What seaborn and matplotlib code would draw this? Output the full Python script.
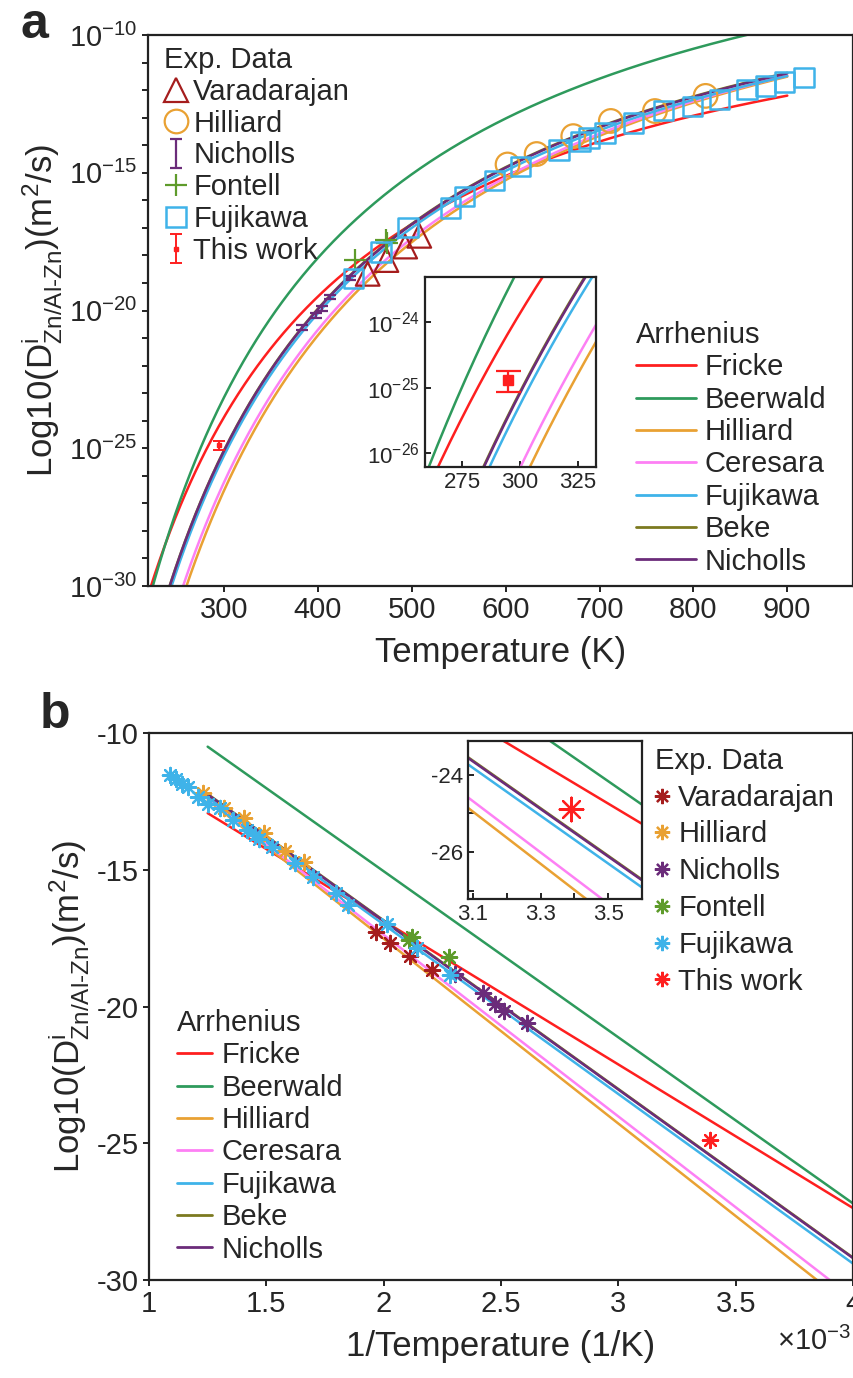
import numpy as np
import pandas as pd
import matplotlib
matplotlib.use("Agg")
import matplotlib.pyplot as plt
from matplotlib.lines import Line2D
from matplotlib.ticker import FixedLocator, FuncFormatter, NullFormatter
import seaborn as sns

# Arrhenius fits, log10 D at 1/T = 1.25e-3 and 4.0e-3 1/K
arrh_names = ["Fricke", "Beerwald", "Hilliard", "Ceresara", "Fujikawa", "Beke", "Nicholls"]
arrh_colors = ["#fe1f1f", "#2e9a5c", "#e9a133", "#fd80f4", "#3fb3e9", "#7c7a20", "#6b2c7a"]
arrh_invT = [1.25e-3, 4.0e-3]
arrh_logD_start = [-12.93, -10.50, -12.45, -12.40, -12.35, -12.23, -12.25]
arrh_logD_end = [-27.37, -27.20, -31.04, -30.66, -29.40, -29.18, -29.20]

# experimental data: T in K, log10 D in m^2/s
vara_T = [453, 473, 493, 508]
vara_logD = [-18.67, -18.17, -17.68, -17.29]
hill_T = [602, 633, 672, 712, 759, 813]
hill_logD = [-14.70, -14.32, -13.67, -13.12, -12.76, -12.21]
nich_T = [383, 398, 404, 413, 434]
nich_logD = [-20.62, -20.18, -19.92, -19.52, -18.82]
nich_err = [0.08, 0.08, 0.08, 0.08, 0.08]
font_T = [439, 472, 474]
font_logD = [-18.18, -17.45, -17.56]
fuji_T = [918, 897, 877, 857, 828, 799, 768, 736, 706, 689, 680, 657, 616,
          588, 556, 541, 496, 467, 438]
fuji_logD = [-11.54, -11.70, -11.85, -11.98, -12.35, -12.60, -12.74, -13.19,
             -13.56, -13.74, -13.86, -14.17, -14.77, -15.28, -15.86, -16.28,
             -16.99, -17.87, -18.84]
this_T = [295]
this_logD = [-24.88]
this_lo = [-25.07]
this_hi = [-24.75]

c_vara = "#a51d1d"
c_hill = "#e9a133"
c_nich = "#6b2c7a"
c_font = "#5e9b2b"
c_fuji = "#3fb3e9"
c_this = "#fe1f1f"

sns.set_style("ticks")
plt.rcParams["font.family"] = ["Liberation Sans", "DejaVu Sans"]
plt.rcParams["mathtext.fontset"] = "custom"
plt.rcParams["mathtext.rm"] = "Liberation Sans"
plt.rcParams["mathtext.it"] = "Liberation Sans:italic"
plt.rcParams["mathtext.bf"] = "Liberation Sans:bold"
plt.rcParams["axes.unicode_minus"] = False

W, H = 854, 1378
fs = 21      # ticks and legends
fl = 25      # axis labels


def box(l, t, r, b):
    return [l / W, 1 - b / H, (r - l) / W, (b - t) / H]


def style_axes(ax, direction="out", size=fs):
    for s in ax.spines.values():
        s.set_visible(True)
        s.set_linewidth(1.6)
        s.set_color("#222222")
    ax.tick_params(which="both", direction=direction, length=4, width=1.4,
                   labelsize=size, top=False, right=False, color="#222222")


# line tables
slopes = [(e - s) / (arrh_invT[1] - arrh_invT[0]) for s, e in zip(arrh_logD_start, arrh_logD_end)]
T_grid = np.linspace(215, 900, 500)
rows_T, rows_inv = [], []
for name, s0, k in zip(arrh_names, arrh_logD_start, slopes):
    logD = s0 + k * (1.0 / T_grid - arrh_invT[0])
    rows_T.append(pd.DataFrame({"T": T_grid, "D": 10.0 ** logD, "model": name}))
    rows_inv.append(pd.DataFrame({"invT": arrh_invT, "logD": [s0, s0 + k * (arrh_invT[1] - arrh_invT[0])],
                                  "model": name}))
lines_T = pd.concat(rows_T)
lines_inv = pd.concat(rows_inv)
pal = dict(zip(arrh_names, arrh_colors))

fig = plt.figure(figsize=(W / 100, H / 100), dpi=100)

# ---------------- panel a ----------------
ax1 = fig.add_axes(box(148, 35, 853, 586))
sns.lineplot(data=lines_T, x="T", y="D", hue="model", hue_order=arrh_names, palette=pal,
             estimator=None, sort=False, lw=1.8, legend=False, ax=ax1)
ax1.set_yscale("log")


def tD(T, logD):
    return np.array(T, float), 10.0 ** np.array(logD)


x, y = tD(vara_T, vara_logD)
sns.scatterplot(x=x, y=y, marker="^", s=17 ** 2, facecolor="none", edgecolor=c_vara, linewidth=1.6, ax=ax1, zorder=5)
x, y = tD(hill_T, hill_logD)
sns.scatterplot(x=x, y=y, marker="o", s=17 ** 2, facecolor="none", edgecolor=c_hill, linewidth=1.6, ax=ax1, zorder=5)
x, y = tD(nich_T, nich_logD)
ne = np.array(nich_err)
eb_nich = ax1.errorbar(x, y, yerr=[y - y * 10 ** -ne, y * 10 ** ne - y], fmt="none", ecolor=c_nich,
                       elinewidth=1.6, capsize=4, capthick=1.6, zorder=5)
x, y = tD(font_T, font_logD)
sns.scatterplot(x=x, y=y, marker="+", s=16 ** 2, color=c_font, linewidth=1.6, ax=ax1, zorder=5)
x, y = tD(fuji_T, fuji_logD)
sns.scatterplot(x=x, y=y, marker="s", s=14 ** 2, facecolor="none", edgecolor=c_fuji, linewidth=1.8, ax=ax1, zorder=5)
x, y = tD(this_T, this_logD)
lo = 10.0 ** np.array(this_lo)
hi = 10.0 ** np.array(this_hi)
eb_this = ax1.errorbar(x, y, yerr=[y - lo, hi - y], fmt="s", ms=3, color=c_this, elinewidth=1.4,
                       capsize=4, capthick=1.4, zorder=5)

ax1.set_xlim(219, 970)
ax1.set_ylim(1e-30, 1e-10)
ax1.set_xticks([300, 400, 500, 600, 700, 800, 900])
ax1.yaxis.set_major_locator(FixedLocator([1e-30, 1e-25, 1e-20, 1e-15, 1e-10]))
ax1.yaxis.set_minor_locator(FixedLocator([10.0 ** k for k in range(-30, -9)]))
ax1.yaxis.set_minor_formatter(NullFormatter())
style_axes(ax1)
ax1.set_xlabel("Temperature (K)", fontsize=fl, labelpad=8)
ylab = r"Log10($\mathregular{D^{i}_{Zn/Al\text{-}Zn}}$)(m$^{2}$/s)"
ax1.set_ylabel(ylab, fontsize=fl, labelpad=4)

h_exp_a = [
    Line2D([], [], ls="none", marker="^", ms=17, mfc="none", mec=c_vara, mew=1.6),
    Line2D([], [], ls="none", marker="o", ms=17, mfc="none", mec=c_hill, mew=1.6),
    eb_nich,
    Line2D([], [], ls="none", marker="+", ms=16, color=c_font, mew=1.6),
    Line2D([], [], ls="none", marker="s", ms=14, mfc="none", mec=c_fuji, mew=1.8),
    eb_this,
]
lab_exp = ["Varadarajan", "Hilliard", "Nicholls", "Fontell", "Fujikawa", "This work"]
leg = ax1.legend(h_exp_a, lab_exp, title="Exp. Data", loc="upper left",
                 bbox_to_anchor=(164 / W, 1 - 46 / H), bbox_transform=fig.transFigure,
                 frameon=False, fontsize=fs, title_fontsize=fs, alignment="left",
                 borderpad=0, handlelength=0.8, handletextpad=0.2, labelspacing=0.13,
                 borderaxespad=0)
ax1.add_artist(leg)
h_arr = [Line2D([], [], color=c, lw=2) for c in arrh_colors]
ax1.legend(h_arr, arrh_names, title="Arrhenius", loc="upper left",
           bbox_to_anchor=(636 / W, 1 - 321 / H), bbox_transform=fig.transFigure,
           frameon=False, fontsize=fs, title_fontsize=fs, alignment="left",
           borderpad=0, handlelength=2.05, handletextpad=0.3, labelspacing=0.15,
           borderaxespad=0)

# inset a
ax1i = fig.add_axes(box(425, 277, 596, 467))
sns.lineplot(data=lines_T, x="T", y="D", hue="model", hue_order=arrh_names, palette=pal,
             estimator=None, sort=False, lw=1.8, legend=False, ax=ax1i)
ax1i.set_yscale("log")
ax1i.errorbar(x, y, yerr=[y - lo, hi - y], fmt="s", ms=7, color=c_this, elinewidth=1.6,
              capsize=9, capthick=1.6, zorder=5)
ax1i.set_xlim(259, 333)
ax1i.set_ylim(10 ** -26.21, 10 ** -23.31)
ax1i.set_xticks([275, 300, 325])
ax1i.yaxis.set_major_locator(FixedLocator([1e-26, 1e-25, 1e-24]))
ax1i.yaxis.set_minor_locator(FixedLocator([]))
style_axes(ax1i, direction="in", size=16)
ax1i.set_xlabel("")
ax1i.set_ylabel("")

# ---------------- panel b ----------------
ax2 = fig.add_axes(box(149, 733, 853, 1280))
sns.lineplot(data=lines_inv, x="invT", y="logD", hue="model", hue_order=arrh_names, palette=pal,
             estimator=None, sort=False, lw=1.8, legend=False, ax=ax2)
star = (8, 2, 0)
exp_sets = [
    (vara_T, vara_logD, c_vara, "Varadarajan"),
    (hill_T, hill_logD, c_hill, "Hilliard"),
    (nich_T, nich_logD, c_nich, "Nicholls"),
    (font_T, font_logD, c_font, "Fontell"),
    (fuji_T, fuji_logD, c_fuji, "Fujikawa"),
    (this_T, this_logD, c_this, "This work"),
]
for T, lD, c, lab in exp_sets:
    sns.scatterplot(x=1.0 / np.array(T, float), y=lD, marker=star, s=11 ** 2, color=c,
                    linewidth=1.6, ax=ax2, zorder=5)
ax2.set_xlim(1e-3, 4e-3)
ax2.set_ylim(-30, -10)
ax2.set_xticks([1e-3, 1.5e-3, 2e-3, 2.5e-3, 3e-3, 3.5e-3, 4e-3])
ax2.set_yticks([-30, -25, -20, -15, -10])
ax2.xaxis.set_major_formatter(FuncFormatter(lambda v, p: f"{v * 1e3:g}"))
style_axes(ax2)
ax2.set_xlabel("1/Temperature (1/K)", fontsize=fl, labelpad=8)
ax2.set_ylabel(ylab, fontsize=fl, labelpad=4)
fig.text(851 / W, 1 - 1327 / H, r"$\times$10$^{-3}$", ha="right", va="top", fontsize=fs)

h_exp_b = [Line2D([], [], ls="none", marker=star, ms=11, color=c, mew=1.6) for _, _, c, _ in exp_sets]
leg2 = ax2.legend(h_exp_b, lab_exp, title="Exp. Data", loc="upper left",
                  bbox_to_anchor=(655 / W, 1 - 747 / H), bbox_transform=fig.transFigure,
                  frameon=False, fontsize=fs, title_fontsize=fs, alignment="left",
                  borderpad=0, handlelength=0.5, handletextpad=0.3, labelspacing=0.3,
                  borderaxespad=0)
ax2.add_artist(leg2)
ax2.legend(h_arr, arrh_names, title="Arrhenius", loc="upper left",
           bbox_to_anchor=(177 / W, 1 - 1009 / H), bbox_transform=fig.transFigure,
           frameon=False, fontsize=fs, title_fontsize=fs, alignment="left",
           borderpad=0, handlelength=1.2, handletextpad=0.32, labelspacing=0.15,
           borderaxespad=0)

# inset b
ax2i = fig.add_axes(box(468, 741, 642, 899))
sns.lineplot(data=lines_inv, x="invT", y="logD", hue="model", hue_order=arrh_names, palette=pal,
             estimator=None, sort=False, lw=1.8, legend=False, ax=ax2i)
sns.scatterplot(x=1.0 / np.array(this_T, float), y=this_logD, marker=star, s=17 ** 2, color=c_this,
                linewidth=1.6, ax=ax2i, zorder=5)
ax2i.set_xlim(3.085e-3, 3.6e-3)
ax2i.set_ylim(-27.22, -23.12)
ax2i.set_xticks([3.1e-3, 3.2e-3, 3.3e-3, 3.4e-3, 3.5e-3])
ax2i.xaxis.set_major_formatter(FuncFormatter(lambda v, p: f"{v * 1e3:.1f}" if p % 2 == 0 else ""))
ax2i.set_yticks([-27, -26, -25, -24])
ax2i.yaxis.set_major_formatter(FuncFormatter(lambda v, p: f"{v:g}" if p % 2 == 1 else ""))
style_axes(ax2i, direction="in", size=16)
ax2i.set_xlabel("")
ax2i.set_ylabel("")

fig.text(20 / W, 1 - 2 / H, "a", fontsize=36, fontweight="bold", va="top")
fig.text(40 / W, 1 - 692 / H, "b", fontsize=36, fontweight="bold", va="top")

fig.savefig("out.png", dpi=100)
